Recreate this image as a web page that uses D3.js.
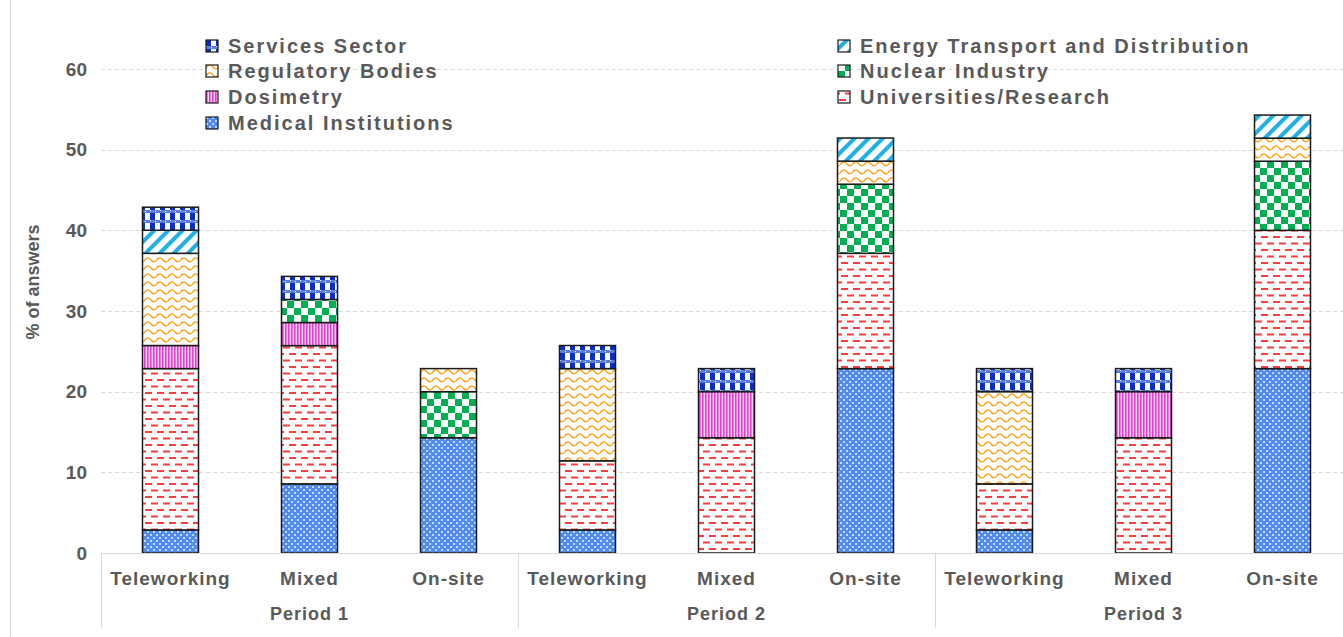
<!DOCTYPE html>
<html>
<head>
<meta charset="utf-8">
<script src="https://cdn.jsdelivr.net/npm/d3@7"></script>
<style>
  body { margin: 0; background: #fff; }
  svg { display: block; font-family: "Liberation Sans", Arial, sans-serif; }
  .lbl { fill: #595959; font-weight: bold; }
</style>
</head>
<body>
<svg id="chart" width="1343" height="637"></svg>
<script>
// categorias e valores (% de respostas)
var categorias = ["Teleworking", "Mixed", "On-site", "Teleworking", "Mixed", "On-site", "Teleworking", "Mixed", "On-site"];
var periodos = ["Period 1", "Period 2", "Period 3"];
var yTicks = [0, 10, 20, 30, 40, 50, 60];

var medical      = [2.86, 8.57, 14.29, 2.86, 0, 22.86, 2.86, 0, 22.86];
var universities = [20.00, 17.14, 0, 8.57, 14.29, 14.29, 5.71, 14.29, 17.14];
var dosimetry    = [2.86, 2.86, 0, 0, 5.71, 0, 0, 5.71, 0];
var nuclear      = [0, 2.86, 5.71, 0, 0, 8.57, 0, 0, 8.57];
var regulatory   = [11.43, 0, 2.86, 11.43, 0, 2.86, 11.43, 0, 2.86];
var energy       = [2.86, 0, 0, 0, 0, 2.86, 0, 0, 2.86];
var services     = [2.86, 2.86, 0, 2.86, 2.86, 0, 2.86, 2.86, 0];

var series = [
  {key: "med", nome: "Medical Institutions", vals: medical},
  {key: "uni", nome: "Universities/Research", vals: universities},
  {key: "dos", nome: "Dosimetry", vals: dosimetry},
  {key: "nuc", nome: "Nuclear Industry", vals: nuclear},
  {key: "reg", nome: "Regulatory Bodies", vals: regulatory},
  {key: "ene", nome: "Energy Transport and Distribution", vals: energy},
  {key: "ser", nome: "Services Sector", vals: services}
];

var svg = d3.select("#chart");
var margem = {left: 101, right: 1352, top: 69, bottom: 553};

// padroes de preenchimento
var defs = svg.append("defs");
function pat(id, w, h) {
  return defs.append("pattern").attr("id", id).attr("patternUnits", "userSpaceOnUse")
    .attr("width", w).attr("height", h);
}
// medical: azul claro com trama de pontos
var p = pat("p-med", 6, 6);
p.append("rect").attr("width", 6).attr("height", 6).attr("fill", "#4f8af5");
p.append("rect").attr("x", 0).attr("y", 0).attr("width", 2).attr("height", 2).attr("fill", "#c8dbff");
p.append("rect").attr("x", 3).attr("y", 3).attr("width", 2).attr("height", 2).attr("fill", "#c8dbff");
// universities: tracos vermelhos alternados
p = pat("p-uni", 12, 13);
p.append("rect").attr("width", 12).attr("height", 13).attr("fill", "#fff");
p.append("rect").attr("x", 1).attr("y", 2).attr("width", 7).attr("height", 2).attr("fill", "#ff3b3b");
p.append("rect").attr("x", 7).attr("y", 8.5).attr("width", 5).attr("height", 2).attr("fill", "#ff3b3b");
p.append("rect").attr("x", 0).attr("y", 8.5).attr("width", 2).attr("height", 2).attr("fill", "#ff3b3b");
// dosimetry: linhas verticais magenta
p = pat("p-dos", 3, 3);
p.append("rect").attr("width", 3).attr("height", 3).attr("fill", "#ffd6f6");
p.append("rect").attr("width", 1.6).attr("height", 3).attr("fill", "#ee3ad8");
// nuclear: xadrez verde
p = pat("p-nuc", 14, 14);
p.append("rect").attr("width", 14).attr("height", 14).attr("fill", "#fff");
p.append("rect").attr("width", 7).attr("height", 7).attr("fill", "#00b050");
p.append("rect").attr("x", 7).attr("y", 7).attr("width", 7).attr("height", 7).attr("fill", "#00b050");
// regulatory: ondas laranja
p = pat("p-reg", 12, 8);
p.append("rect").attr("width", 12).attr("height", 8).attr("fill", "#fff");
p.append("path").attr("d", "M0,5 Q3,0 6,3 Q9,7 12,5").attr("fill", "none")
  .attr("stroke", "#ffa31a").attr("stroke-width", 1.4);
// energy: diagonais azul claro
p = pat("p-ene", 10, 10).attr("patternTransform", "rotate(45)");
p.append("rect").attr("width", 10).attr("height", 10).attr("fill", "#fff");
p.append("rect").attr("width", 4).attr("height", 10).attr("fill", "#1fb0e8");
// services: azul escuro quadriculado
p = pat("p-ser", 10, 10);
p.append("rect").attr("width", 10).attr("height", 10).attr("fill", "#fff");
p.append("rect").attr("width", 10).attr("height", 3).attr("fill", "#5a7ee0");
p.append("rect").attr("x", 0).attr("y", 0).attr("width", 1).attr("height", 1).attr("fill", "#fff");
p.append("rect").attr("x", 5).attr("y", 1).attr("width", 1).attr("height", 1).attr("fill", "#fff");
p.append("rect").attr("x", 0).attr("y", 3).attr("width", 5).attr("height", 7).attr("fill", "#0a2fc4");

// borda do grafico
svg.append("line").attr("x1", 10.5).attr("x2", 10.5).attr("y1", 0).attr("y2", 637)
  .attr("stroke", "#d9d9d9").attr("stroke-width", 1);

var x = d3.scaleBand().domain(d3.range(categorias.length)).range([margem.left, margem.right]).padding(0);
var y = d3.scaleLinear().domain([0, 60]).range([margem.bottom, margem.top]);
var barW = 56;

// grade
svg.append("g").selectAll("line").data(yTicks.filter(function(d){ return d > 0; }))
  .enter().append("line")
  .attr("x1", margem.left).attr("x2", margem.right)
  .attr("y1", function(d){ return Math.round(y(d)) + 0.5; })
  .attr("y2", function(d){ return Math.round(y(d)) + 0.5; })
  .attr("stroke", "#d9d9d9").attr("stroke-dasharray", "4,3");

// eixo Y (so rotulos)
var yAxis = svg.append("g").attr("transform", "translate(" + margem.left + ",0)")
  .call(d3.axisLeft(y).tickValues(yTicks).tickSize(0).tickPadding(14));
yAxis.select(".domain").remove();
yAxis.selectAll("text").attr("class", "lbl").style("font-size", "19px")
  .style("font-family", "'Liberation Sans', Arial, sans-serif");

svg.append("text").attr("class", "lbl")
  .attr("transform", "translate(39,282) rotate(-90)")
  .attr("text-anchor", "middle").style("font-size", "18px")
  .text("% of answers");

// pilhas
var linhas = categorias.map(function(c, i) {
  var o = {i: i};
  series.forEach(function(s){ o[s.key] = s.vals[i]; });
  return o;
});
var stack = d3.stack().keys(series.map(function(s){ return s.key; }));
var camadas = stack(linhas);

svg.append("g").selectAll("g").data(camadas).enter().append("g")
  .attr("fill", function(d){ return "url(#p-" + d.key + ")"; })
  .selectAll("rect")
  .data(function(d){ return d.filter(function(v){ return v[1] - v[0] > 0; }); })
  .enter().append("rect")
  .attr("x", function(d){ return x(d.data.i) + x.bandwidth() / 2 - barW / 2; })
  .attr("width", barW)
  .attr("y", function(d){ return y(d[1]); })
  .attr("height", function(d){ return y(d[0]) - y(d[1]); })
  .attr("stroke", "#1a1a1a").attr("stroke-width", 1.5);

// eixo X
svg.append("line").attr("x1", margem.left).attr("x2", margem.right)
  .attr("y1", margem.bottom + 0.5).attr("y2", margem.bottom + 0.5)
  .attr("stroke", "#d9d9d9");
var sep = [0, 3, 6, 9];
svg.append("g").selectAll("line").data(sep).enter().append("line")
  .attr("x1", function(d){ return Math.round(margem.left + d * x.step()) + 0.5; })
  .attr("x2", function(d){ return Math.round(margem.left + d * x.step()) + 0.5; })
  .attr("y1", margem.bottom).attr("y2", 628)
  .attr("stroke", "#d9d9d9");

svg.append("g").selectAll("text").data(categorias).enter().append("text")
  .attr("class", "lbl").style("font-size", "19px").style("letter-spacing", "1px")
  .attr("x", function(d, i){ return x(i) + x.bandwidth() / 2; })
  .attr("y", 585).attr("text-anchor", "middle")
  .text(function(d){ return d; });

svg.append("g").selectAll("text").data(periodos).enter().append("text")
  .attr("class", "lbl").style("font-size", "18px").style("letter-spacing", "1px")
  .attr("x", function(d, i){ return margem.left + (i * 3 + 1.5) * x.step(); })
  .attr("y", 620).attr("text-anchor", "middle")
  .text(function(d){ return d; });

// legenda (ordem do Excel)
var legenda = [
  {key: "ser", col: 0, row: 0}, {key: "reg", col: 0, row: 1}, {key: "dos", col: 0, row: 2}, {key: "med", col: 0, row: 3},
  {key: "ene", col: 1, row: 0}, {key: "nuc", col: 1, row: 1}, {key: "uni", col: 1, row: 2}
];
var colX = [206, 838], rowY = [46, 71, 97, 123];
var leg = svg.append("g").selectAll("g").data(legenda).enter().append("g")
  .attr("transform", function(d){ return "translate(" + colX[d.col] + "," + rowY[d.row] + ")"; });
leg.append("rect").attr("x", 0).attr("y", -6).attr("width", 12).attr("height", 12)
  .attr("fill", function(d){ return "url(#p-" + d.key + ")"; })
  .attr("stroke", "#1a1a1a").attr("stroke-width", 1.2);
leg.append("text").attr("class", "lbl").style("font-size", "20px").style("letter-spacing", "2px")
  .attr("x", 22).attr("y", 7)
  .text(function(d){ return series.find(function(s){ return s.key === d.key; }).nome; });
</script>
</body>
</html>
